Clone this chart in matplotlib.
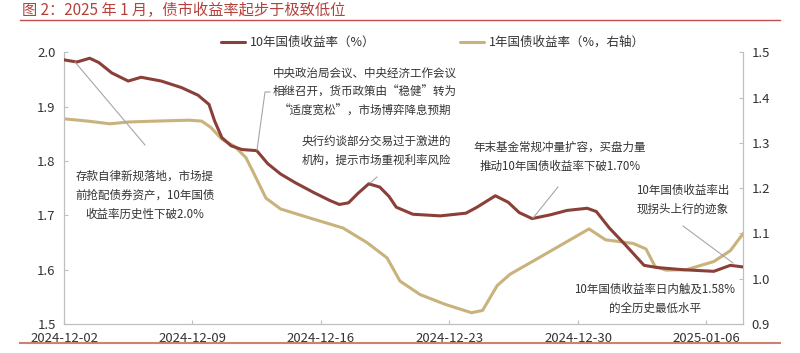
import matplotlib
matplotlib.use("Agg")
import matplotlib.pyplot as plt
import matplotlib.dates as mdates
import pandas as pd

plt.rcParams['font.family'] = ['Noto Sans CJK SC', 'DejaVu Sans']

start_date = pd.Timestamp("2024-12-02")
end_date = pd.Timestamp("2025-01-08")

# 10年国债收益率（左轴）：距 2024-12-02 的天数, 收益率
y10_days = [0, 0.7, 1.4, 1.9, 2.6, 3.5, 4.2, 5.3, 6.4, 7.3, 7.9, 8.2, 8.6, 9.1, 9.7,
            10.5, 11.1, 11.8, 12.6, 13.6, 14.5, 15.0, 15.5, 16.0, 16.6, 17.2, 17.7,
            18.1, 19.0, 20.5, 21.9, 22.5, 23.5, 24.2, 24.8, 25.5, 26.5, 27.4, 28.5,
            29.0, 29.7, 30.6, 31.6, 32.3, 33.7, 35.4, 36.3, 37.0]
y10_vals = [1.986, 1.982, 1.989, 1.981, 1.962, 1.947, 1.954, 1.947, 1.935, 1.921,
            1.904, 1.874, 1.843, 1.828, 1.821, 1.819, 1.795, 1.776, 1.760, 1.742,
            1.727, 1.720, 1.723, 1.740, 1.758, 1.752, 1.735, 1.715, 1.702, 1.699,
            1.704, 1.715, 1.736, 1.724, 1.705, 1.694, 1.701, 1.709, 1.713, 1.707,
            1.677, 1.645, 1.608, 1.604, 1.600, 1.597, 1.608, 1.605]

# 1年国债收益率（右轴）
y1_days = [0, 1.3, 2.5, 3.5, 5.0, 6.8, 7.5, 8.0, 8.6, 9.3, 9.9, 10.3, 11.0, 11.8,
           13.4, 15.2, 16.5, 17.6, 18.3, 19.4, 20.8, 22.2, 22.8, 23.6, 24.3, 25.6,
           27.4, 28.6, 29.5, 31.0, 31.7, 32.2, 32.8, 33.9, 35.4, 36.3, 37.0]
y1_vals = [1.353, 1.348, 1.342, 1.346, 1.348, 1.350, 1.348, 1.334, 1.308, 1.292,
           1.268, 1.236, 1.178, 1.154, 1.134, 1.112, 1.080, 1.046, 0.995, 0.965,
           0.943, 0.925, 0.930, 0.985, 1.010, 1.040, 1.082, 1.110, 1.086, 1.078,
           1.066, 1.027, 1.019, 1.020, 1.038, 1.062, 1.100]

x_ticks = ["2024-12-02", "2024-12-09", "2024-12-16", "2024-12-23", "2024-12-30", "2025-01-06"]

c10 = "#8a3f38"
c1 = "#c9b27c"
grey = "#a6a6a6"

y10_dates = start_date + pd.to_timedelta(y10_days, unit="D")
y1_dates = start_date + pd.to_timedelta(y1_days, unit="D")

fig = plt.figure(figsize=(8, 3.53), dpi=100)
ax = fig.add_axes([0.08, 0.082, 0.849, 0.770])
ax2 = ax.twinx()

l1, = ax.plot(y10_dates, y10_vals, color=c10, lw=2.2, label="10年国债收益率（%）",
              solid_joinstyle='round', solid_capstyle='round', zorder=3)
l2, = ax2.plot(y1_dates, y1_vals, color=c1, lw=2.2, label="1年国债收益率（%，右轴）",
               solid_joinstyle='round', solid_capstyle='round', zorder=2)
ax.set_zorder(ax2.get_zorder() + 1)
ax.patch.set_visible(False)

ax.set_xlim(start_date, end_date)
ax.set_ylim(1.5, 2.0)
ax2.set_ylim(0.9, 1.5)
ax.set_yticks([1.5, 1.6, 1.7, 1.8, 1.9, 2.0])
ax2.set_yticks([0.9, 1.0, 1.1, 1.2, 1.3, 1.4, 1.5])
ax.yaxis.set_major_formatter(plt.FormatStrFormatter('%.1f'))
ax2.yaxis.set_major_formatter(plt.FormatStrFormatter('%.1f'))
ax.set_xticks(pd.to_datetime(x_ticks))
ax.xaxis.set_major_formatter(mdates.DateFormatter("%Y-%m-%d"))

for a in (ax, ax2):
    a.spines['top'].set_visible(False)
    for s in ('left', 'right', 'bottom'):
        a.spines[s].set_color("#bfbfbf")
        a.spines[s].set_linewidth(0.8)
    a.tick_params(direction='in', length=3, color="#bfbfbf", labelsize=9.5,
                  labelcolor="#333333", pad=6)

# legend
fig.legend(handles=[l1, l2], loc='upper left', bbox_to_anchor=(0.262, 0.93), ncol=2,
           frameon=False, fontsize=9, handlelength=1.9, handletextpad=0.4,
           columnspacing=6.8, labelcolor="#333333")

# title & red rules
fig.text(0.027, 0.995, "图 2：2025 年 1 月，债市收益率起步于极致低位", color="#b4413c",
         fontsize=11, va='top', ha='left')
fig.add_artist(plt.Line2D([0.025, 0.975], [0.943, 0.943], color="#c0504d", lw=1.0))
fig.add_artist(plt.Line2D([0.025, 0.975], [0.028, 0.028], color="#d08070", lw=1.5))

fs = 8.3
tc = "#333333"

def px(x, y):
    return (x / 800, 1 - y / 353)

def note(x, y, s):
    fig.text(*px(x, y), s, fontsize=fs, color=tc, ha='center', va='center', linespacing=1.6)

def leader(pts):
    xs = [p[0] / 800 for p in pts]
    ys = [1 - p[1] / 353 for p in pts]
    fig.add_artist(plt.Line2D(xs, ys, color=grey, lw=0.8))

note(145, 195, "存款自律新规落地，市场提\n前抢配债券资产，10年国债\n收益率历史性下破2.0%")
leader([(75, 62), (145, 145)])

note(365, 92, "中央政治局会议、中央经济工作会议\n相继召开，货币政策由“稳健”转为\n“适度宽松”，市场博弈降息预期")
leader([(257, 150), (265, 92), (270, 92)])

note(376, 151, "央行约谈部分交易过于激进的\n机构，提示市场重视利率风险")
leader([(370, 183), (377, 177)])

note(560, 157, "年末基金常规冲量扩容，买盘力量\n推动10年国债收益率下破1.70%")
leader([(533, 218), (558, 187)])

note(683, 200, "10年国债收益率出\n现拐头上行的迹象")
leader([(683, 226), (733, 263)])

note(655, 299, "10年国债收益率日内触及1.58%\n的全历史最低水平")

fig.savefig("out.png", dpi=100)
